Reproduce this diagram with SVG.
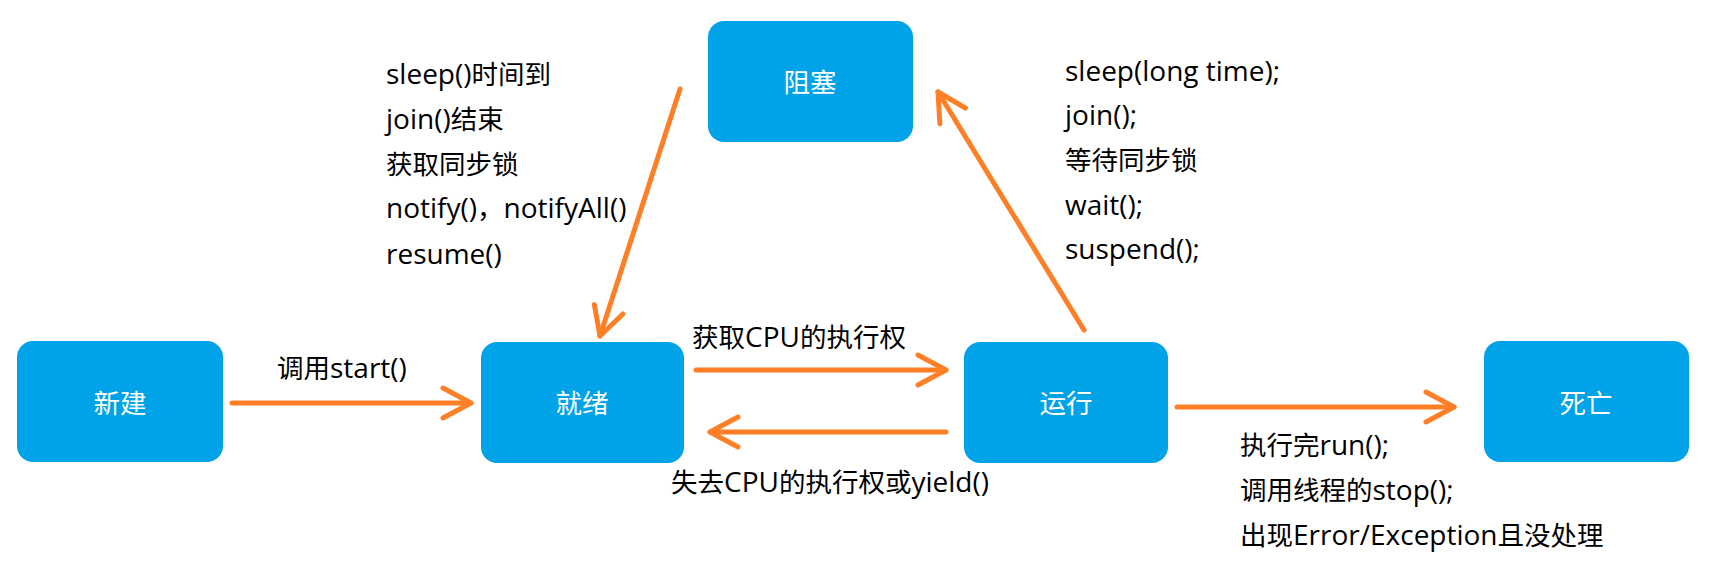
<svg xmlns="http://www.w3.org/2000/svg" width="1725" height="566" viewBox="0 0 1725 566">
<style>
.node{fill:#00A2E8;}
.nt{fill:#fff;font-family:"Noto Sans CJK SC","Microsoft YaHei",sans-serif;font-size:26.5px;text-anchor:middle;}
.lb{fill:#000;font-family:"Noto Sans CJK SC","Microsoft YaHei",sans-serif;font-size:26.5px;}
.la{font-family:"Open Sans","Noto Sans CJK SC",sans-serif;font-size:28px;}
.edge{fill:none;stroke:#FF7F27;stroke-width:5;stroke-linecap:round;marker-end:url(#chev);}
</style>
<defs>
<marker id="chev" markerUnits="userSpaceOnUse" markerWidth="40" markerHeight="40" viewBox="-36 -20 40 40" refX="0" refY="0" orient="auto">
<path d="M-28,-15 L0,0 L-28,15" fill="none" stroke="#FF7F27" stroke-width="5" stroke-linecap="round" stroke-linejoin="round"/>
</marker>
</defs>
<rect width="1725" height="566" fill="#fff"/>
<g id="connectors">
<line class="edge" x1="232" y1="403" x2="471" y2="403"/>
<line class="edge" x1="696" y1="370" x2="946" y2="370"/>
<line class="edge" x1="946" y1="432" x2="710" y2="432"/>
<line class="edge" x1="1177" y1="407" x2="1454" y2="407"/>
<line class="edge" x1="1084" y1="330" x2="938" y2="92"/>
<line class="edge" x1="680" y1="89" x2="600" y2="336"/>
</g>
<g id="n-new"><rect class="node" x="17" y="341" width="206" height="121" rx="16"/><text class="nt" x="120" y="413">新建</text></g>
<g id="n-ready"><rect class="node" x="481" y="342" width="203" height="121" rx="16"/><text class="nt" x="582" y="413">就绪</text></g>
<g id="n-run"><rect class="node" x="964" y="342" width="204" height="121" rx="16"/><text class="nt" x="1066" y="413">运行</text></g>
<g id="n-dead"><rect class="node" x="1484" y="341" width="205" height="121" rx="16"/><text class="nt" x="1586" y="413">死亡</text></g>
<g id="n-block"><rect class="node" x="708" y="21" width="205" height="121" rx="16"/><text class="nt" x="810" y="92">阻塞</text></g>
<g id="labels">
<text class="lb" x="277" y="378">调用<tspan class="la">start()</tspan></text>
<text class="lb" x="692" y="347">获取<tspan class="la">CPU</tspan>的执行权</text>
<text class="lb" x="671" y="492">失去<tspan class="la">CPU</tspan>的执行权或<tspan class="la">yield()</tspan></text>
<text class="lb" x="386" y="84"><tspan class="la">sleep()</tspan>时间到</text>
<text class="lb" x="386" y="129"><tspan class="la">join()</tspan>结束</text>
<text class="lb" x="386" y="174">获取同步锁</text>
<text class="lb" x="386" y="218"><tspan class="la">notify()</tspan>，<tspan class="la">notifyAll()</tspan></text>
<text class="lb" x="386" y="264"><tspan class="la">resume()</tspan></text>
<text class="lb" x="1065" y="81"><tspan class="la">sleep(long time);</tspan></text>
<text class="lb" x="1065" y="125"><tspan class="la">join();</tspan></text>
<text class="lb" x="1065" y="170">等待同步锁</text>
<text class="lb" x="1065" y="215"><tspan class="la">wait();</tspan></text>
<text class="lb" x="1065" y="259"><tspan class="la">suspend();</tspan></text>
<text class="lb" x="1240" y="455">执行完<tspan class="la">run();</tspan></text>
<text class="lb" x="1240" y="500">调用线程的<tspan class="la">stop();</tspan></text>
<text class="lb" x="1240" y="545">出现<tspan class="la">Error/Exception</tspan>且没处理</text>
</g>
</svg>
